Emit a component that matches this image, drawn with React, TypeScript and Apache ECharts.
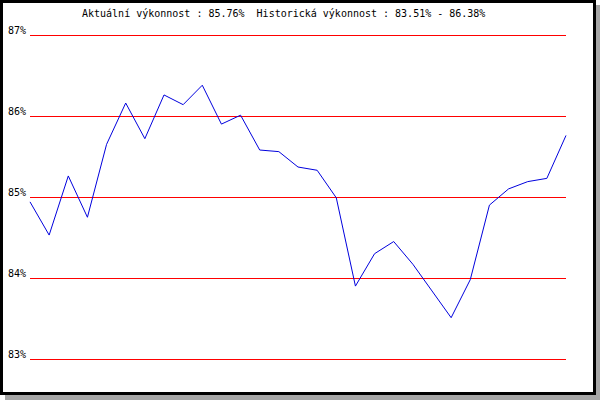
import React, { useEffect, useRef } from "react";
import * as echarts from "echarts";

const titleText = "Aktuální výkonnost : 85.76%  Historická výkonnost : 83.51% - 86.38%";
const categories = Array.from({ length: 29 }, (_, i) => String(i + 1));
const performance = [
  84.94, 84.53, 85.26, 84.75, 85.65, 86.16, 85.72, 86.26, 86.14, 86.38,
  85.9, 86.01, 85.58, 85.56, 85.37, 85.33, 84.99, 83.9, 84.3, 84.45,
  84.17, 83.84, 83.51, 83.98, 84.9, 85.1, 85.19, 85.23, 85.76,
];
const yMin = 83;
const yMax = 87;
const yStep = 1;

export default function App() {
  const ref = useRef<HTMLDivElement>(null);
  useEffect(() => {
    document.body.style.margin = "0";
    const chart = echarts.init(ref.current!, null, { renderer: "svg" });
    chart.setOption({
      animation: false,
      backgroundColor: "#ffffff",
      graphic: [
        {
          type: "rect",
          z: -10,
          silent: true,
          shape: { x: 5, y: 5, width: 595, height: 395 },
          style: { fill: "#a6a6a6" },
        },
        {
          type: "rect",
          z: -9,
          silent: true,
          shape: { x: 1.5, y: 1.5, width: 593, height: 392 },
          style: { fill: "#ffffff", stroke: "#000000", lineWidth: 3 },
        },
        {
          type: "text",
          z: 10,
          x: 82,
          y: 13,
          style: {
            text: titleText,
            fill: "#000000",
            font: "10px 'DejaVu Sans Mono'",
            verticalAlign: "middle",
            align: "left",
          },
        },
      ],
      grid: { left: 30, right: 34, top: 35, bottom: 41 },
      xAxis: {
        type: "category",
        data: categories,
        boundaryGap: false,
        show: false,
      },
      yAxis: {
        type: "value",
        min: yMin,
        max: yMax,
        interval: yStep,
        axisLine: { show: false },
        axisTick: { show: false },
        axisLabel: {
          formatter: "{value}%",
          fontFamily: "DejaVu Sans Mono",
          fontSize: 10,
          color: "#000000",
          verticalAlign: "bottom",
          margin: 4,
        },
        splitLine: { lineStyle: { color: "#ff0000", width: 1 } },
      },
      series: [
        {
          type: "line",
          data: performance,
          showSymbol: false,
          lineStyle: { color: "#0000dd", width: 1 },
          z: 5,
        },
      ],
    });
    return () => chart.dispose();
  }, []);
  return <div ref={ref} style={{ width: 600, height: 400 }} />;
}
